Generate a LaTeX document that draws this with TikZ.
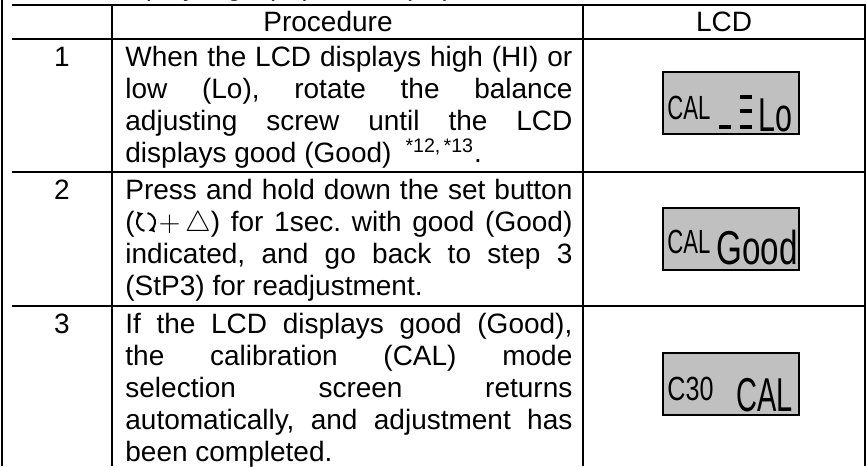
\documentclass[tikz,border=0pt]{standalone}
\usepackage{fontspec}
\setmainfont{Liberation Sans}
\usepackage{graphicx}
\usepackage{tikz}
\usetikzlibrary{arrows.meta,positioning}
\definecolor{lcdgray}{HTML}{C0C0C0}
\frenchspacing
\tikzset{%
         rule/.style = { line width=1pt },
         body/.style = { anchor=base west, inner sep=0pt, text width=223.5pt, align=justify,
                         font=\fontsize{14}{16.1}\selectfont },
       stepno/.style = { anchor=base, inner sep=0pt, font=\fontsize{14}{16}\selectfont },
         head/.style = { stepno },
          lcd/.style = { draw, fill=lcdgray, line width=1pt, minimum width=68pt,
                         minimum height=31pt, inner sep=0pt },
      lcdtext/.style = { anchor=base west, inner sep=0pt },
     lcdsmall/.style = { lcdtext, font=\fontsize{16.75}{17}\selectfont },
       lcdbig/.style = { lcdtext, font=\fontsize{23.75}{24}\selectfont },
         turn/.style = { line width=1pt, -{Latex[length=3pt,width=3.5pt]} }
}

\begin{document}
\begin{tikzpicture}[x=0.5pt,y=-0.5pt]
  \useasboundingbox (0,0) rectangle (867,466);
  \clip (0,0) rectangle (867,466);

  % heading line, cut off at the top
  \node[anchor=base west, inner sep=0pt, font=\fontsize{14}{16}\selectfont] (title) at (105,-4)
    {Display high (HI) or low (Lo)};

  % table rules
  \draw[rule] (2,0) -- (2,466);
  \draw[rule] (12,5) -- (866,5);
  \draw[rule] (12,39) -- (866,39);
  \draw[rule] (12,172) -- (866,172);
  \draw[rule] (12,306) -- (866,306);
  \draw[rule] (112,5) -- (112,466);
  \draw[rule] (583,5) -- (583,466);
  \draw[rule] (865,5) -- (865,466);

  \node[head] (proc) at (328,32) {Procedure};
  \node[head] (lcdhead) at (724,32) {LCD};

  % step 1
  \node[stepno] (no1) at (62,66) {1};
  \node[body] (text1) at (125,66) {When the LCD displays high (HI) or\linebreak
    low (Lo), rotate the balance\linebreak
    adjusting screw until the LCD\linebreak
    displays good (Good)\hspace{7pt}\textsuperscript{*12,\,*13}.};
  \node[lcd] (lcd1) at (731,103) {};
  \node[lcdsmall] (cal1) at (667,119) {\scalebox{0.66}[1]{CAL}};
  \node[lcdbig] (lo) at (758,131) {\scalebox{0.64}[1]{Lo}};
  \fill (719,125) rectangle (731,129);
  \fill (740,95) rectangle (752,99);
  \fill (740,109) rectangle (752,113);
  \fill (740,125) rectangle (752,129);

  % step 2
  \node[stepno] (no2) at (62,199) {2};
  \node[body] (text2) at (125,199) {Press and hold down the set button\linebreak
    (\hspace{12pt}$+$\,$\triangle$) for 1sec. with good (Good)\linebreak
    indicated, and go back to step 3\linebreak
    (StP3) for readjustment.};
  \draw[turn] (146,222) ++(100:9) arc[start angle=100, end angle=255, radius=9];
  \draw[turn] (146,222) ++(280:9) arc[start angle=280, end angle=435, radius=9];
  \node[lcd] (lcd2) at (731,239) {};
  \node[lcdsmall] (cal2) at (667,253) {\scalebox{0.66}[1]{CAL}};
  \node[lcdbig] (good) at (716,264) {\scalebox{0.70}[1]{Good}};

  % step 3
  \node[stepno] (no3) at (62,333) {3};
  \node[body] (text3) at (125,333) {If the LCD displays good (Good),\linebreak
    the calibration (CAL) mode\linebreak
    selection screen returns\linebreak
    automatically, and adjustment has\linebreak
    been completed.};
  \node[lcd] (lcd3) at (731,384) {};
  \node[lcdsmall] (c30) at (667,400) {\scalebox{0.75}[1]{C30}};
  \node[lcdbig] (cal3) at (736,411) {\scalebox{0.61}[1]{CAL}};
\end{tikzpicture}
\end{document}
